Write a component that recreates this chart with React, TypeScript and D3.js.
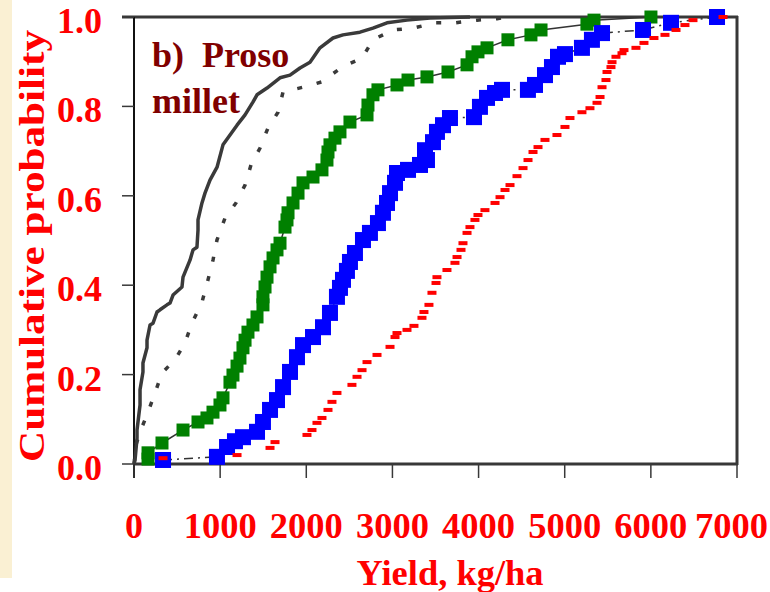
import React from 'react';
import * as d3 from 'd3';

const xTicks = [0, 1000, 2000, 3000, 4000, 5000, 6000, 7000];
const yTicks = [0, 0.2, 0.4, 0.6, 0.8, 1.0];

// [yield kg/ha, cumulative probability]
const solidCdf: [number, number][] = [
  [0, 0], [12, 0.009], [35, 0.058], [35, 0.076], [70, 0.132], [70, 0.166], [104, 0.206], [104, 0.226],
  [151, 0.26], [151, 0.277], [186, 0.311], [221, 0.315], [267, 0.34], [302, 0.345], [383, 0.356],
  [418, 0.36], [453, 0.378], [557, 0.396], [569, 0.418], [650, 0.456], [685, 0.479], [731, 0.485],
  [743, 0.523], [743, 0.546], [789, 0.584], [824, 0.606], [882, 0.635], [964, 0.664], [1033, 0.714],
  [1196, 0.758], [1289, 0.781], [1382, 0.81], [1428, 0.826], [1544, 0.841], [1695, 0.864],
  [1811, 0.87], [1927, 0.886], [2043, 0.899], [2101, 0.915], [2159, 0.931], [2310, 0.953],
  [2426, 0.96], [2623, 0.966], [2774, 0.975], [2937, 0.987], [3169, 0.993], [3436, 0.998], [3900, 1.0],
];

const dottedCdf: [number, number][] = [
  [0, 0], [23, 0.043], [70, 0.072], [151, 0.11], [244, 0.159], [325, 0.204], [476, 0.233],
  [592, 0.271], [673, 0.315], [789, 0.362], [859, 0.412], [917, 0.456], [963, 0.501], [1056, 0.55],
  [1184, 0.584], [1289, 0.624], [1358, 0.669], [1463, 0.707], [1556, 0.752], [1672, 0.787],
  [1730, 0.832], [1962, 0.843], [2182, 0.855], [2414, 0.888], [2647, 0.908], [2774, 0.949],
  [3006, 0.971], [3239, 0.975], [3494, 0.987], [3726, 0.987], [3982, 0.993], [4214, 0.996], [4307, 1.0],
];

const greenCdf: [number, number][] = [
  [163, 0.011], [163, 0.025], [325, 0.047], [569, 0.076], [743, 0.094], [847, 0.103], [917, 0.116],
  [998, 0.132], [1033, 0.148], [1114, 0.183], [1149, 0.199], [1196, 0.219], [1230, 0.237],
  [1265, 0.26], [1289, 0.277], [1323, 0.295], [1381, 0.311], [1428, 0.329], [1497, 0.356],
  [1497, 0.374], [1521, 0.396], [1544, 0.418], [1579, 0.441], [1614, 0.461], [1660, 0.479],
  [1695, 0.494], [1753, 0.53], [1776, 0.546], [1788, 0.562], [1846, 0.584], [1904, 0.606],
  [1962, 0.629], [2078, 0.642], [2182, 0.658], [2240, 0.68], [2252, 0.698], [2275, 0.714],
  [2333, 0.729], [2391, 0.743], [2507, 0.765], [2705, 0.781], [2716, 0.803], [2774, 0.826],
  [2832, 0.837], [3053, 0.848], [3181, 0.859], [3401, 0.866], [3645, 0.877], [3866, 0.893],
  [3924, 0.911], [3993, 0.922], [4098, 0.931], [4341, 0.949], [4608, 0.96], [4725, 0.971],
  [5258, 0.984], [5340, 0.993], [6001, 1.0],
];

const blueCdf: [number, number][] = [
  [337, 0.009], [963, 0.016], [1080, 0.038], [1172, 0.051], [1265, 0.06], [1428, 0.072],
  [1497, 0.094], [1579, 0.121], [1660, 0.143], [1730, 0.172], [1811, 0.206], [1892, 0.239],
  [1962, 0.266], [2078, 0.284], [2194, 0.306], [2275, 0.338], [2356, 0.374], [2391, 0.394],
  [2426, 0.412], [2472, 0.432], [2507, 0.452], [2565, 0.472], [2658, 0.501], [2739, 0.517],
  [2832, 0.539], [2890, 0.562], [2937, 0.584], [2972, 0.606], [3030, 0.629], [3053, 0.651],
  [3181, 0.658], [3320, 0.669], [3401, 0.68], [3378, 0.702], [3471, 0.72], [3517, 0.743],
  [3587, 0.758], [3668, 0.774], [3947, 0.776], [4016, 0.799], [4098, 0.819], [4191, 0.83],
  [4272, 0.837], [4573, 0.837], [4655, 0.848], [4771, 0.87], [4852, 0.888], [4922, 0.911],
  [5003, 0.917], [5200, 0.931], [5316, 0.949], [5433, 0.964], [5909, 0.971], [6234, 0.987], [6768, 1.0],
];

const redCdf: [number, number][] = [
  [337, 0.013], [1196, 0.02], [1579, 0.036], [1637, 0.049], [2008, 0.065], [2066, 0.076],
  [2124, 0.092], [2182, 0.103], [2252, 0.121], [2298, 0.139], [2356, 0.159], [2530, 0.177],
  [2589, 0.195], [2647, 0.21], [2705, 0.228], [2821, 0.244], [2972, 0.262], [3030, 0.284],
  [3053, 0.293], [3169, 0.3], [3250, 0.309], [3343, 0.327], [3366, 0.34], [3424, 0.356],
  [3459, 0.383], [3506, 0.405], [3517, 0.418], [3633, 0.434], [3726, 0.45], [3750, 0.463],
  [3796, 0.479], [3819, 0.494], [3866, 0.517], [3900, 0.53], [3958, 0.546], [3993, 0.557],
  [4074, 0.568], [4191, 0.584], [4249, 0.597], [4307, 0.613], [4365, 0.624], [4446, 0.644],
  [4516, 0.662], [4574, 0.68], [4632, 0.698], [4690, 0.709], [4771, 0.725], [4910, 0.736],
  [5003, 0.754], [5061, 0.774], [5200, 0.787], [5293, 0.796], [5375, 0.808], [5410, 0.821],
  [5433, 0.843], [5479, 0.859], [5491, 0.877], [5537, 0.888], [5549, 0.899], [5595, 0.911],
  [5665, 0.919], [5688, 0.926], [5827, 0.931], [5920, 0.942], [6036, 0.953], [6164, 0.96],
  [6292, 0.971], [6396, 0.982], [6489, 0.993], [6838, 1.0],
];

const titleLine1 = 'b)  Proso';
const titleLine2 = 'millet';
const xTitle = 'Yield, kg/ha';
const yTitle = 'Cumulative probability';

export default function App() {
  const x = d3.scaleLinear().domain([0, 7000]).range([134, 737]);
  const y = d3.scaleLinear().domain([0, 1]).range([464, 17]);
  const line = d3
    .line<[number, number]>()
    .x((d) => x(d[0]))
    .y((d) => y(d[1]));

  const axisGray = '#383838';
  const red = '#ff0000';

  return (
    <svg
      width={770}
      height={592}
      style={{ position: 'absolute', left: 0, top: 0 }}
      fontFamily="'Liberation Serif', 'Times New Roman', serif"
      fontWeight="bold"
    >
      <rect x={0} y={0} width={770} height={592} fill="#ffffff" />
      <rect x={0} y={0} width={12} height={578} fill="#faf0d3" />

      {/* frame */}
      <line x1={122} x2={738} y1={17} y2={17} stroke={axisGray} strokeWidth={3} />
      <line x1={737} x2={737} y1={16} y2={465} stroke={axisGray} strokeWidth={3} />
      <line x1={133} x2={738} y1={464} y2={464} stroke={axisGray} strokeWidth={3} />
      <line x1={134} x2={134} y1={17} y2={478} stroke="#111" strokeWidth={2} />

      {/* ticks */}
      {yTicks.map((t) => (
        <line key={'yt' + t} x1={122} x2={134} y1={y(t)} y2={y(t)} stroke={axisGray} strokeWidth={1.5} />
      ))}
      {xTicks.map((t) => (
        <line key={'xt' + t} x1={x(t)} x2={x(t)} y1={464} y2={478} stroke={axisGray} strokeWidth={1.5} />
      ))}

      {/* tick labels */}
      {yTicks.map((t) => (
        <text key={'yl' + t} x={102} y={y(t) + 16} fontSize={36} fill={red} textAnchor="end">
          {t.toFixed(1)}
        </text>
      ))}
      {xTicks.map((t) => (
        <text
          key={'xl' + t}
          x={t === 7000 ? 768 : x(t)}
          y={538}
          fontSize={36}
          fill={red}
          textAnchor={t === 7000 ? 'end' : 'middle'}
          textLength={t === 0 ? undefined : 73}
          lengthAdjust="spacingAndGlyphs"
        >
          {t}
        </text>
      ))}

      {/* axis titles */}
      <text x={450} y={585} fontSize={36} fill={red} textAnchor="middle" textLength={187} lengthAdjust="spacingAndGlyphs">
        {xTitle}
      </text>
      <text
        transform="translate(44,246) rotate(-90)"
        fontSize={36}
        fill={red}
        textAnchor="middle"
        textLength={432}
        lengthAdjust="spacingAndGlyphs"
      >
        {yTitle}
      </text>

      {/* panel label */}
      <text x={152} y={67} fontSize={36} fill="#800000" style={{ whiteSpace: 'pre' }}>
        {titleLine1}
      </text>
      <text x={152} y={113} fontSize={36} fill="#800000">
        {titleLine2}
      </text>

      {/* curves */}
      <path d={line(solidCdf) || ''} fill="none" stroke="#3a3a3a" strokeWidth={3.5} strokeLinejoin="round" />
      <path d={line(dottedCdf) || ''} fill="none" stroke="#3a3a3a" strokeWidth={3.5} strokeDasharray="5,15" />
      <path d={line(greenCdf) || ''} fill="none" stroke="#333" strokeWidth={1.5} />
      <path d={line(blueCdf) || ''} fill="none" stroke="#333" strokeWidth={1.5} strokeDasharray="9,5,2,5" />

      {greenCdf.map((d, i) => (
        <rect key={'g' + i} x={x(d[0]) - 6.5} y={y(d[1]) - 6.5} width={13} height={13} fill="#008000" />
      ))}
      {blueCdf.map((d, i) => (
        <rect key={'b' + i} x={x(d[0]) - 8} y={y(d[1]) - 8} width={16} height={16} fill="#0000ff" />
      ))}
      {redCdf.map((d, i) => (
        <rect key={'r' + i} x={x(d[0]) - 4.5} y={y(d[1]) - 2} width={9} height={4} fill={red} />
      ))}
    </svg>
  );
}
